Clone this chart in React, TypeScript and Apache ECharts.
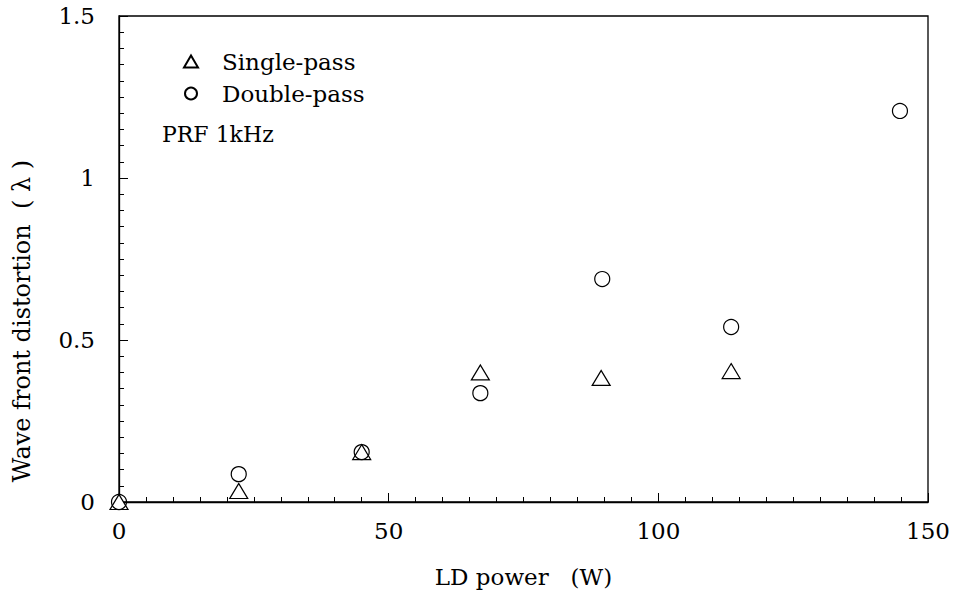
import React, { useEffect, useRef } from "react";
import * as echarts from "echarts";

const singlePassX = [0, 22.2, 45, 67, 89.4, 113.5];
const singlePassY = [0, 0.034, 0.154, 0.4, 0.383, 0.404];
const doublePassX = [0, 22.2, 45, 67, 89.6, 113.5, 144.8];
const doublePassY = [0, 0.086, 0.154, 0.336, 0.688, 0.54, 1.207];
const xTicks = [0, 50, 100, 150];
const yTicks = [0, 0.5, 1, 1.5];

const FONT = "DejaVu Serif";

export default function App() {
  const ref = useRef<HTMLDivElement>(null);
  useEffect(() => {
    if (!ref.current) return;
    const chart = echarts.init(ref.current, undefined, { renderer: "svg" });
    const pts = (xs: number[], ys: number[]) => xs.map((x, i) => [x, ys[i]]);
    chart.setOption({
      animation: false,
      backgroundColor: "#fff",
      textStyle: { fontFamily: FONT, color: "#000" },
      grid: {
        left: 119,
        right: 29,
        top: 16,
        bottom: 93,
        show: true,
        borderColor: "#000",
        borderWidth: 1.3,
      },
      legend: {
        orient: "vertical",
        left: 178,
        top: 45,
        itemGap: 9,
        itemWidth: 14,
        itemHeight: 12,
        textStyle: { fontFamily: FONT, fontSize: 23, color: "#000", padding: [0, 0, 0, 19] },
        data: [
          { name: "Single-pass", icon: "triangle" },
          { name: "Double-pass", icon: "circle" },
        ],
      },
      graphic: [
        {
          type: "text",
          left: 162,
          top: 123,
          style: { text: "PRF 1kHz", font: `22px "${FONT}"`, fill: "#000" },
        },
        {
          type: "text",
          x: 22,
          y: 321,
          rotation: Math.PI / 2,
          style: {
            text: "Wave front distortion  ( λ )",
            font: `24px "${FONT}"`,
            fill: "#000",
            align: "center",
            verticalAlign: "middle",
          },
        },
      ],
      xAxis: {
        type: "value",
        min: xTicks[0],
        max: xTicks[xTicks.length - 1],
        interval: 50,
        name: "LD power   (W)",
        nameLocation: "middle",
        nameGap: 63,
        nameTextStyle: { fontFamily: FONT, fontSize: 23, color: "#000" },
        axisLine: { show: true, lineStyle: { color: "#000", width: 1.3 } },
        axisTick: { show: true, inside: true, length: 9, lineStyle: { color: "#000" } },
        minorTick: { show: true, splitNumber: 10, length: 5, lineStyle: { color: "#000" } },
        splitLine: { show: false },
        axisLabel: { fontFamily: FONT, fontSize: 23, color: "#000", margin: 17 },
      },
      yAxis: {
        type: "value",
        min: yTicks[0],
        max: yTicks[yTicks.length - 1],
        interval: 0.5,
        axisLine: { show: true, lineStyle: { color: "#000", width: 1.3 } },
        axisTick: { show: true, inside: true, length: 9, lineStyle: { color: "#000" } },
        minorTick: { show: true, splitNumber: 10, length: 5, lineStyle: { color: "#000" } },
        splitLine: { show: false },
        axisLabel: { fontFamily: FONT, fontSize: 23, color: "#000", margin: 24 },
      },
      series: [
        {
          name: "Single-pass",
          type: "scatter",
          symbol: "triangle",
          symbolSize: [18, 15],
          itemStyle: { color: "#fff", borderColor: "#000", borderWidth: 1.2, opacity: 1 },
          data: pts(singlePassX, singlePassY),
          z: 3,
        },
        {
          name: "Double-pass",
          type: "scatter",
          symbol: "circle",
          symbolSize: 15,
          itemStyle: { color: "rgba(255,255,255,0)", borderColor: "#000", borderWidth: 1.2, opacity: 1 },
          data: pts(doublePassX, doublePassY),
          z: 4,
        },
      ],
    });
    return () => chart.dispose();
  }, []);
  return (
    <div
      ref={ref}
      style={{ position: "fixed", left: 0, top: 0, width: 957, height: 595 }}
    />
  );
}
